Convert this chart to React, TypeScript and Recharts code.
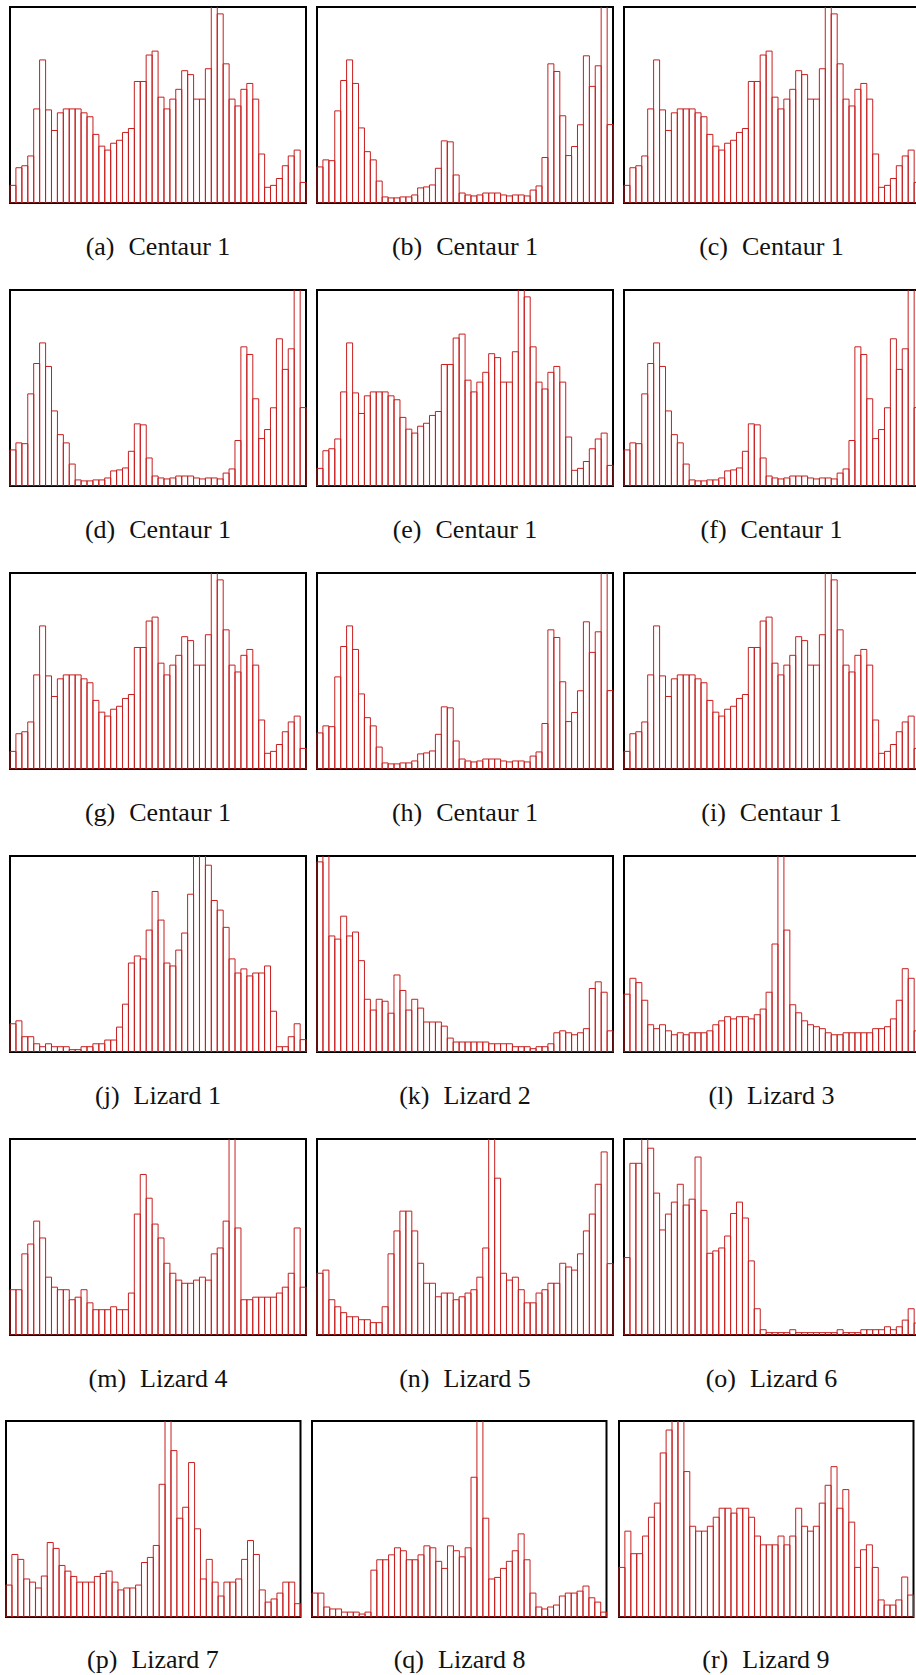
import { BarChart, Bar, XAxis, YAxis, ReferenceArea } from 'recharts';

// bar heights as % of the frame height; values above 100 run off the top
const centaurA = [9, 18, 19, 24, 48, 73, 47.5, 37, 46, 48, 48, 48, 46, 44, 35, 29, 27, 30.5, 32, 36, 38, 62, 62, 75.5, 77.5, 54, 48, 53, 58, 67.5, 65.5, 53, 53, 68.5, 105, 96.5, 71, 53, 49.5, 58, 61, 53, 25, 8, 9, 12.5, 19, 24, 27, 10.5];
const centaurB = [18.4, 22, 21.6, 47, 62.5, 73, 61, 38.3, 26.2, 22, 11.2, 3.1, 2.6, 2.6, 3.1, 3.1, 4.1, 7.7, 8.2, 9.2, 17.7, 31.7, 31.2, 14.3, 5.1, 4.1, 3.6, 4.1, 5.1, 5.1, 5.1, 4.1, 3.6, 4.1, 4.1, 3.6, 6.6, 8.7, 23.2, 71, 67.1, 44.5, 24.2, 28.8, 39.9, 75.1, 59.5, 70, 105, 40];
const lizard1 = [14.4, 15.9, 7.8, 7.8, 4.2, 2.7, 4.2, 2.7, 2.7, 2.7, 1.2, 1.2, 2.7, 2.7, 4.2, 4.2, 6.1, 6.1, 12.7, 24.4, 45.4, 49, 47.5, 62.2, 81.9, 67.3, 45.4, 43.9, 52, 60.7, 80.5, 105, 105, 95.3, 77.3, 72.4, 63.6, 47.5, 40.3, 42.4, 38.8, 40.3, 40.3, 43.9, 20.8, 2.7, 2.7, 7.8, 14.4, 6.3];
const lizard2 = [97, 105, 59.2, 57.6, 69.3, 59.2, 61.2, 46.6, 26.9, 21.4, 26.9, 25.9, 19.8, 39.3, 31.4, 21.4, 26.9, 22.4, 15.3, 15.3, 15.3, 13.2, 7.1, 5.1, 5.1, 5.1, 5.1, 5.1, 5.1, 4.2, 4.2, 4.2, 4.2, 2.7, 2.7, 2.7, 1.7, 2.7, 2.7, 4.2, 9.8, 10.8, 9.8, 8.8, 9.8, 11.9, 32.4, 35.8, 30.5, 10.8];
const lizard3 = [29.5, 37.6, 35.4, 26.4, 13.9, 11.9, 13.9, 10.8, 8.8, 9.8, 8.8, 9.8, 9.8, 9.8, 10.8, 13.9, 15.9, 18, 16.9, 18, 18, 16.9, 19, 21.9, 30.5, 55.1, 105, 62.2, 24.1, 20, 15.9, 13.9, 12.9, 11.9, 9.8, 8.8, 8.8, 9.8, 9.8, 9.8, 9.8, 9.8, 11.9, 11.9, 12.9, 16.9, 26.4, 42.5, 37.6, 10.8];
const lizard4 = [23.1, 23.1, 41.4, 46.4, 58.1, 49.5, 29.5, 24.4, 23.1, 23.1, 18, 19.3, 23.1, 16.4, 12.9, 12.9, 12.9, 14.4, 12.9, 12.9, 21.4, 61.7, 81.9, 69.8, 56.6, 49.5, 36.6, 31.5, 28, 26.4, 26.4, 28, 29.5, 28, 41.4, 44.4, 58.1, 105, 54.6, 18, 18, 19.3, 19.3, 19.3, 19.3, 21.4, 24.4, 31.5, 54.6, 24.4];
const lizard5 = [31.5, 33.1, 18, 14.4, 11.4, 9.3, 9.3, 7.8, 7.8, 6.3, 6.3, 14.4, 41.4, 53.1, 63.2, 63.2, 53.1, 36.6, 26.4, 26.4, 19.5, 21.4, 21.4, 18, 19.5, 21.4, 23.1, 29.5, 44.4, 105, 80, 31.5, 28, 29.5, 23.1, 16.4, 16.4, 21.4, 23.1, 26.4, 26.4, 36.6, 34.7, 33.1, 41.4, 53.1, 61.7, 76.9, 93.4, 36.4];
const lizard6 = [39.5, 87.6, 87.6, 105, 95.3, 72.4, 53.6, 61.7, 67.8, 76.9, 66.3, 69.3, 90.8, 63.6, 41.7, 42.9, 44.4, 50.5, 62, 67.8, 59.7, 37.8, 13.4, 2.7, 1.2, 1.2, 1.2, 1.2, 2.7, 1.2, 1.2, 1.2, 1.2, 1.2, 1.2, 1.2, 2.7, 1.2, 1.2, 1.2, 2.7, 2.7, 2.7, 2.7, 4.2, 2.7, 4.2, 7.6, 13.4, 6.1];
const lizard7 = [16.3, 31.9, 29.4, 19.4, 17.8, 14.8, 20.9, 38, 35, 26.3, 23.4, 20.7, 17.8, 17.8, 17.8, 20.7, 22.2, 23.4, 17.8, 13.8, 14.8, 14.8, 16.3, 27.8, 30.4, 36.5, 67.7, 105, 84.9, 50.4, 56, 78.8, 45, 19.4, 29.4, 17.8, 10.7, 17.8, 17.8, 19.4, 29.4, 39, 31.9, 13.8, 7.6, 9.2, 12.2, 17.8, 17.8, 6.8];
const lizard8 = [12.2, 12.2, 5.1, 4.1, 4.1, 2.5, 2.5, 2.5, 1.5, 2.5, 23.9, 29.2, 29.2, 31.7, 35.3, 33.8, 29.2, 29.2, 31.7, 36.3, 35.3, 28.4, 24.8, 36.3, 33.8, 30.7, 35.3, 71.3, 105, 50.4, 19.4, 20.2, 24.8, 28.4, 33.8, 42.4, 29.2, 12.2, 5.1, 4.1, 5.1, 6.1, 10.7, 12.2, 12.2, 13.2, 15.8, 9.8, 7.6, 2.5];
const lizard9 = [25.3, 43.8, 32.3, 32.3, 41.3, 50.9, 58.1, 83.7, 95.4, 105, 105, 74.2, 46.3, 43.8, 43.8, 46.3, 50.9, 55.5, 55.5, 53, 55.5, 55.5, 50.9, 41.3, 36.8, 36.8, 36.8, 41.3, 36.8, 41.3, 55.5, 46.3, 43.8, 46.3, 58.1, 67.2, 76.7, 55.5, 65, 48.4, 25.3, 34.3, 36.8, 25.3, 8.7, 6.1, 6.1, 8.7, 20.4, 11.2];

const labels = ['(a)', '(b)', '(c)', '(d)', '(e)', '(f)', '(g)', '(h)', '(i)', '(j)', '(k)', '(l)', '(m)', '(n)', '(o)', '(p)', '(q)', '(r)'];
const names = [
  'Centaur 1', 'Centaur 1', 'Centaur 1',
  'Centaur 1', 'Centaur 1', 'Centaur 1',
  'Centaur 1', 'Centaur 1', 'Centaur 1',
  'Lizard 1', 'Lizard 2', 'Lizard 3',
  'Lizard 4', 'Lizard 5', 'Lizard 6',
  'Lizard 7', 'Lizard 8', 'Lizard 9',
];
const series = [
  centaurA, centaurB, centaurA,
  centaurB, centaurA, centaurB,
  centaurA, centaurB, centaurA,
  lizard1, lizard2, lizard3,
  lizard4, lizard5, lizard6,
  lizard7, lizard8, lizard9,
];

const ROW_TOPS = [7, 290, 573, 856, 1139, 1421];
const COL_LEFTS = [10, 317, 623.5];
const LAST_ROW_LEFTS = [5.7, 312.3, 618.7];
const BOX_H = 196;
const RED = '#c81e1e';

function Histogram({ values, width, height }: { values: number[]; width: number; height: number }) {
  const data = values.map((v, i) => ({ bin: i, v }));
  return (
    <BarChart
      width={width + 4}
      height={height + 4}
      data={data}
      margin={{ top: 2, right: 2, bottom: 2, left: 2 }}
      barCategoryGap={0}
      barGap={0}
    >
      <XAxis dataKey="bin" hide />
      <YAxis domain={[0, 100]} allowDataOverflow hide />
      <Bar dataKey="v" fill="none" stroke={RED} strokeWidth={1} isAnimationActive={false} />
      {/* frame around the plot area */}
      <ReferenceArea
        x1={0}
        x2={values.length - 1}
        y1={0}
        y2={100}
        ifOverflow="visible"
        fill="none"
        fillOpacity={0}
        stroke="#000"
        strokeWidth={2}
      />
    </BarChart>
  );
}

export default function App() {
  return (
    <div style={{ position: 'absolute', left: 0, top: 0, width: 916, height: 1675, overflow: 'hidden', background: '#fff' }}>
      {series.map((values, idx) => {
        const row = Math.floor(idx / 3);
        const col = idx % 3;
        const lastRow = row === 5;
        const left = lastRow ? LAST_ROW_LEFTS[col] : COL_LEFTS[col];
        const width = lastRow ? 294.5 : 296;
        const top = ROW_TOPS[row];
        const capY = top + (lastRow ? 239 : 239.5);
        return (
          <div key={idx}>
            <div style={{ position: 'absolute', left: left - 2, top: top - 2 }}>
              <Histogram values={values} width={width} height={BOX_H} />
            </div>
            <div
              style={{
                position: 'absolute',
                left,
                width,
                top: capY - 10,
                height: 20,
                lineHeight: '20px',
                textAlign: 'center',
                fontFamily: '"Liberation Serif", serif',
                fontSize: 26,
                color: '#111',
                whiteSpace: 'nowrap',
              }}
            >
              <span>{labels[idx]}</span>
              <span style={{ marginLeft: 14 }}>{names[idx]}</span>
            </div>
          </div>
        );
      })}
    </div>
  );
}
